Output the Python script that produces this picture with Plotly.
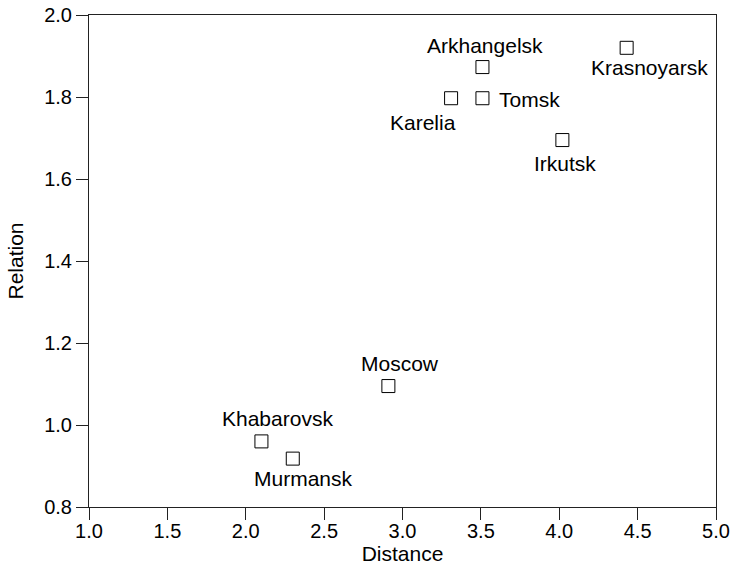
import plotly.graph_objects as go

# Regions with their distance and relation scores
regions = ["Krasnoyarsk", "Arkhangelsk", "Tomsk", "Karelia", "Irkutsk",
           "Moscow", "Khabarovsk", "Murmansk"]
distance = [4.43, 3.51, 3.51, 3.31, 4.02, 2.91, 2.10, 2.30]
relation = [1.92, 1.873, 1.797, 1.797, 1.695, 1.095, 0.96, 0.918]

# Label placement relative to each marker (pixels)
label_dx = [23, 3, 47, -28, 3, 12, 16, 11]
label_dy = [-20, 22, -1, -24, -23, 23, 23, -20]

FONT = "Liberation Sans, Arial, Helvetica, sans-serif"
INK = "#000000"

fig = go.Figure()
fig.add_trace(go.Scatter(
    x=distance, y=relation, mode="markers",
    marker=dict(symbol="square-open", size=13, color=INK, line=dict(width=1, color=INK)),
    hoverinfo="text", text=regions, showlegend=False,
))

for name, xv, yv, dx, dy in zip(regions, distance, relation, label_dx, label_dy):
    fig.add_annotation(x=xv, y=yv, text=name, showarrow=False,
                       xshift=dx, yshift=dy,
                       font=dict(family=FONT, size=21, color=INK))

axis_common = dict(
    showgrid=False, zeroline=False, showline=True, mirror=True,
    linecolor="#222222", linewidth=1, automargin=False,
    ticks="outside", ticklen=12, tickwidth=1, tickcolor="#222222",
    tickfont=dict(family=FONT, size=20, color=INK),
    tickformat=".1f",
)

fig.update_xaxes(range=[1.0, 5.0], dtick=0.5, tick0=1.0,
                 title=dict(text="Distance", font=dict(family=FONT, size=21, color=INK), standoff=0),
                 ticklabelstandoff=-6, **axis_common)
fig.update_yaxes(range=[0.8, 2.0], dtick=0.2, tick0=0.8,
                 title=dict(text="Relation", font=dict(family=FONT, size=21, color=INK), standoff=14),
                 ticklabelstandoff=0, **axis_common)

fig.update_layout(
    width=737, height=578,
    margin=dict(l=89, r=21, t=15, b=71),
    paper_bgcolor="white", plot_bgcolor="white",
    font=dict(family=FONT, color=INK),
)

fig.write_html("out.html")
